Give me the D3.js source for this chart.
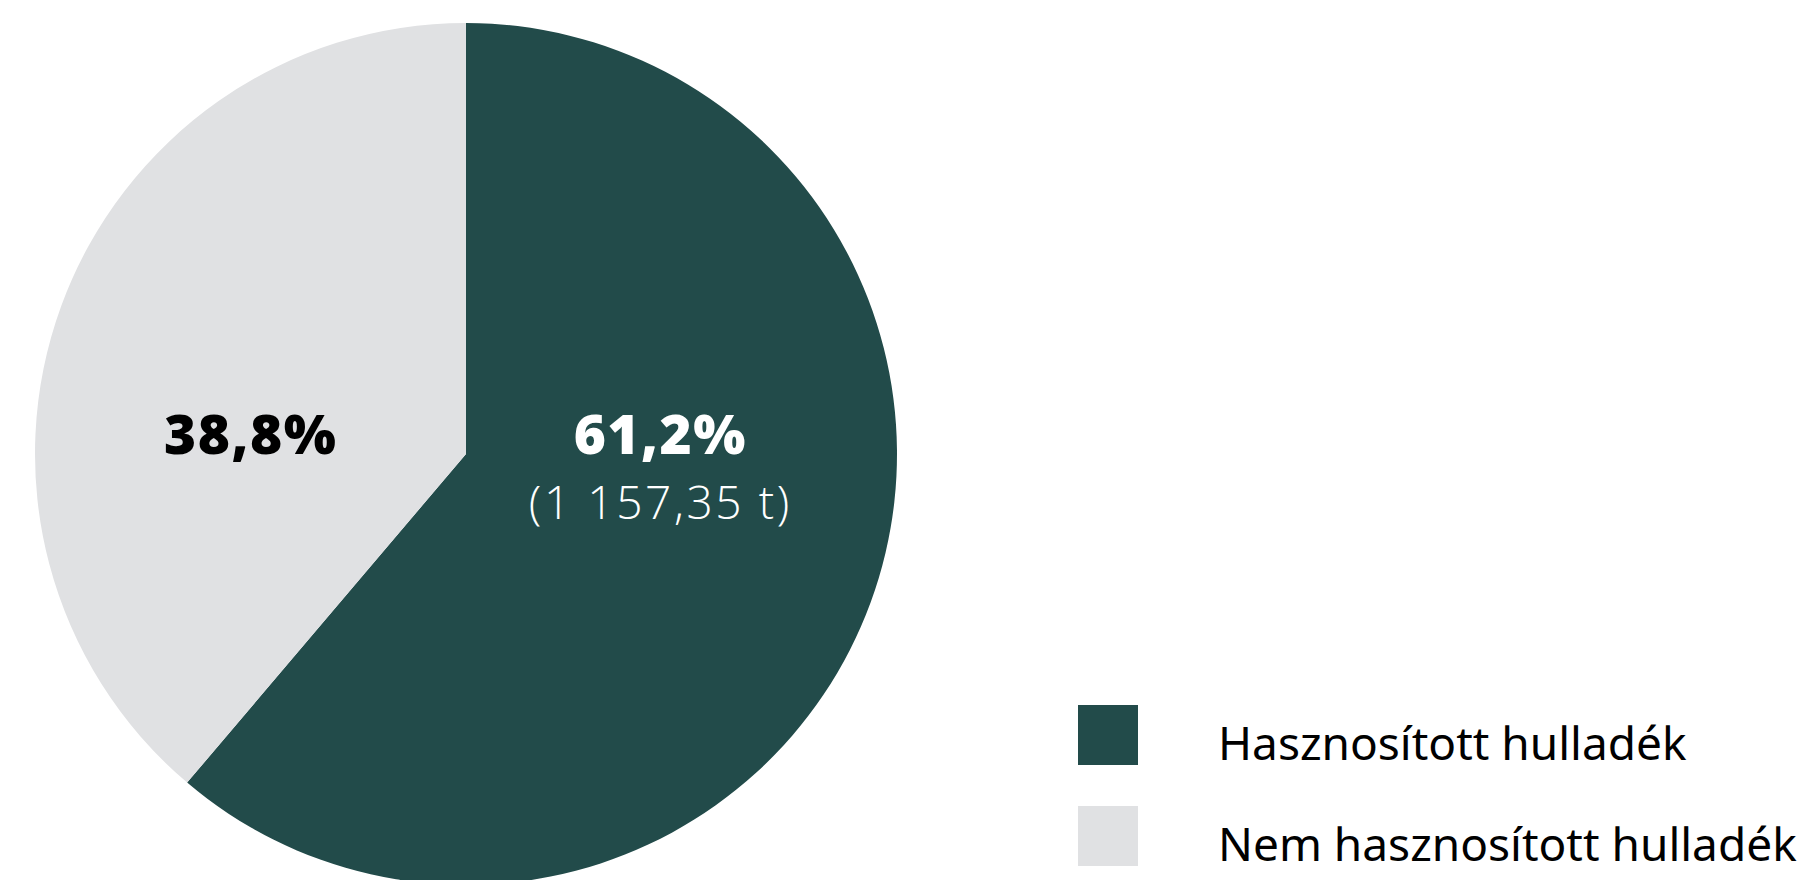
<!DOCTYPE html>
<html>
<head>
<meta charset="utf-8">
<script src="https://cdn.jsdelivr.net/npm/d3@7"></script>
<style>
  html, body { margin: 0; padding: 0; background: #ffffff; }
  svg { display: block; }
</style>
</head>
<body>
<svg id="chart" width="1810" height="880"></svg>
<script>
const categories = ["Hasznosított hulladék", "Nem hasznosított hulladék"];
const percentValues = [61.2, 38.8];
const tonnes = [1157.35, null];
const colors = ["#224b4a", "#e0e1e3"];
const labelColors = ["#ffffff", "#000000"];

const W = 1810, H = 880;
const cx = 466, cy = 454, R = 431;
const labelNudge = [-8, -13];

const svg = d3.select("#chart");
const g = svg.append("g").attr("transform", `translate(${cx},${cy})`);

const data = categories.map((c, i) => ({ name: c, value: percentValues[i], t: tonnes[i], color: colors[i], lc: labelColors[i], nudge: labelNudge[i] }));

const pie = d3.pie().sort(null).value(d => d.value);
const arcs = pie(data);
const arc = d3.arc().innerRadius(0).outerRadius(R);
const labelArc = d3.arc().innerRadius(0).outerRadius(R);

g.selectAll("path.slice").data(arcs).join("path")
  .attr("class", "slice")
  .attr("d", arc)
  .attr("fill", d => d.data.color);

const fmtPct = v => d3.format(".1f")(v).replace(".", ",") + "%";
const fmtT = v => {
  const parts = d3.format(".2f")(v).split(".");
  const int = parts[0].replace(/\B(?=(\d{3})+(?!\d))/g, " ");
  return "(" + int + "," + parts[1] + " t)";
};

const lab = g.selectAll("g.lab").data(arcs).join("g")
  .attr("class", "lab")
  .attr("transform", d => `translate(${labelArc.centroid(d)[0] + d.data.nudge},0)`);

lab.append("text")
  .attr("text-anchor", "middle")
  .attr("y", 0)
  .attr("font-family", "'Open Sans', sans-serif")
  .attr("font-weight", 800)
  .attr("font-size", 55)
  .attr("letter-spacing", 1.5)
  .attr("fill", d => d.data.lc)
  .text(d => fmtPct(d.data.value));

lab.filter(d => d.data.t != null).append("text")
  .attr("text-anchor", "middle")
  .attr("y", 65)
  .attr("font-family", "'Open Sans', sans-serif")
  .attr("font-weight", 300)
  .attr("font-size", 46)
  .attr("letter-spacing", 2.6)
  .attr("fill", d => d.data.lc)
  .text(d => fmtT(d.data.t));

// Legend
const legend = svg.append("g").attr("transform", "translate(1078,705)");
const li = legend.selectAll("g").data(data).join("g")
  .attr("transform", (d, i) => `translate(0,${i * 101})`);
li.append("rect").attr("width", 60).attr("height", 60).attr("fill", d => d.color);
li.append("text")
  .attr("x", 140)
  .attr("y", 55)
  .attr("font-family", "'Noto Sans', sans-serif")
  .attr("font-size", 46)
  .attr("fill", "#000")
  .text(d => d.name);
</script>
</body>
</html>
